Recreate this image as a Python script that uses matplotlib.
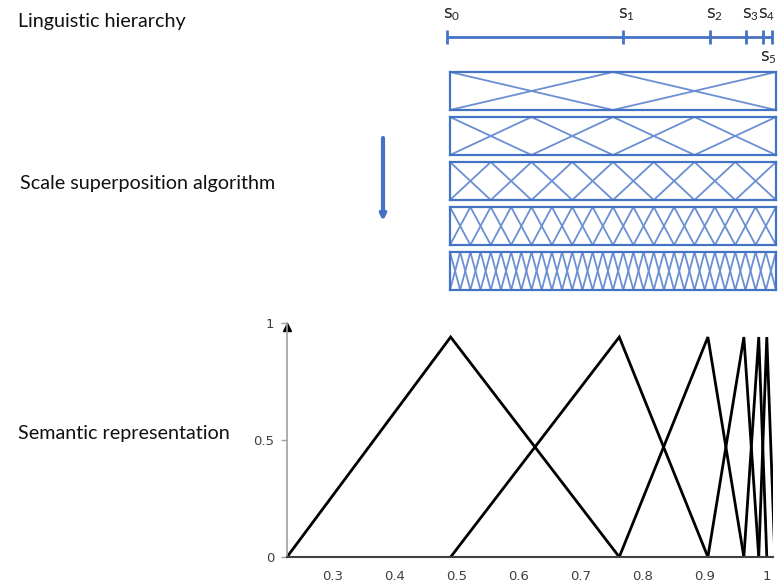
import numpy as np
import matplotlib
matplotlib.use("Agg")
import matplotlib.pyplot as plt
from matplotlib.patches import FancyArrowPatch

W, H = 780, 585

# linguistic hierarchy: terms and their positions along the scale (0..1)
term_labels = ["0", "1", "2", "3", "4", "5"]
term_pos = [0.0, 0.54, 0.81, 0.92, 0.972, 1.0]

# number of zig-zag segments in each superposition box
box_segments = [2, 4, 8, 16, 32]

# semantic representation: triangle vertices (feet / peaks)
sem_points = [0.226, 0.49, 0.762, 0.905, 0.963, 0.987, 1.0, 1.013]
peak_height = 0.94
x_ticks = [0.3, 0.4, 0.5, 0.6, 0.7, 0.8, 0.9, 1.0]
x_ticklabels = ["0.3", "0.4", "0.5", "0.6", "0.7", "0.8", "0.9", "1"]
y_ticks = [0, 0.5, 1]
y_ticklabels = ["0", "0.5", "1"]

BLUE = "#4472C4"
LIGHT_BLUE = "#6a8fd2"

plt.rcParams["mathtext.fontset"] = "custom"
plt.rcParams["mathtext.rm"] = "Lato"
plt.rcParams["mathtext.it"] = "Lato:italic"

fig = plt.figure(figsize=(W / 100, H / 100), dpi=100)


def px_axes(x0, y0, x1, y1):
    # axes placed by pixel box (top-left origin)
    return fig.add_axes([x0 / W, 1 - y1 / H, (x1 - x0) / W, (y1 - y0) / H])


# left side labels
for y, txt, x in [(22, "Linguistic hierarchy", 18),
                  (183, "Scale superposition algorithm", 20),
                  (433, "Semantic representation", 18)]:
    fig.text(x / W, 1 - y / H, txt, ha="left", va="center",
             fontsize=14.2, family="Lato", color="#111111")

# ---- linguistic hierarchy line
ax_h = px_axes(447, 25, 772, 49)
ax_h.set_xlim(0, 1)
ax_h.set_ylim(-1, 1)
ax_h.axis("off")
ax_h.plot([term_pos[0], term_pos[-1]], [0, 0], color=BLUE, lw=2,
          solid_capstyle="butt", clip_on=False)
ax_h.vlines(term_pos, -0.6, 0.6, color=BLUE, lw=2, clip_on=False)
for lab, p in zip(term_labels[:-1], term_pos[:-1]):
    ax_h.annotate("s$_{%s}$" % lab, (p, 0.6), xytext=(3, 5),
                  textcoords="offset points", ha="center", va="bottom",
                  fontsize=12, color="#222222", annotation_clip=False)
ax_h.annotate("s$_{%s}$" % term_labels[-1], (term_pos[-1], -0.6),
              xytext=(-9, -3), textcoords="offset points", ha="left",
              va="top", fontsize=12, color="#222222", annotation_clip=False)

# ---- scale superposition boxes
for i, n in enumerate(box_segments):
    top = 72 + 45 * i
    ax = px_axes(450, top, 776, top + 38)
    xs = np.linspace(0, 1, n + 1)
    ys = np.arange(n + 1) % 2
    ax.plot(xs, ys, color=LIGHT_BLUE, lw=1.3)
    ax.plot(xs, 1 - ys, color=LIGHT_BLUE, lw=1.3)
    ax.set_xlim(0, 1)
    ax.set_ylim(0, 1)
    ax.set_xticks([])
    ax.set_yticks([])
    for s in ax.spines.values():
        s.set_color(BLUE)
        s.set_linewidth(1.6)

# down arrow
fig.add_artist(FancyArrowPatch((383 / W, 1 - 138 / H), (383 / W, 1 - 221 / H),
                               transform=fig.transFigure, arrowstyle="-|>",
                               mutation_scale=8, lw=3, color=BLUE,
                               shrinkA=0, shrinkB=0))

# ---- semantic representation
ax_s = px_axes(287, 323, 773, 557)
for k in range(1, len(sem_points) - 1):
    ax_s.plot(sem_points[k - 1:k + 2], [0, peak_height, 0], color="black",
              lw=2, solid_joinstyle="miter")
ax_s.set_xlim(sem_points[0], 1.01)
ax_s.set_ylim(0, 1)
ax_s.set_xticks(x_ticks)
ax_s.set_xticklabels(x_ticklabels)
ax_s.set_yticks(y_ticks)
ax_s.set_yticklabels(y_ticklabels)
ax_s.tick_params(axis="x", length=0, pad=9, labelsize=9.5, labelcolor="#404040")
ax_s.tick_params(axis="y", length=4, direction="out", color="#a0a0a0",
                 width=1, pad=5, labelsize=9.5, labelcolor="#404040")
for side in ["top", "right"]:
    ax_s.spines[side].set_visible(False)
ax_s.spines["bottom"].set_color("#404040")
ax_s.spines["bottom"].set_linewidth(1.5)
ax_s.spines["left"].set_color("#a0a0a0")
ax_s.spines["left"].set_linewidth(1.2)
ax_s.plot(0, 0.985, marker="^", ms=6, color="black", transform=ax_s.transAxes,
          clip_on=False)

fig.savefig("out.png", dpi=100)
